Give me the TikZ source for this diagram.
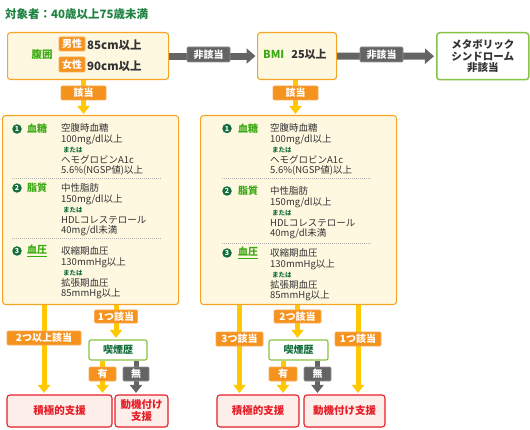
\documentclass[tikz,border=0pt]{standalone}
\usepackage{fontspec}
\setmainfont{Noto Sans CJK JP}
\usetikzlibrary{arrows.meta,backgrounds,calc}
\definecolor{titleG}{RGB}{30,130,65}
\definecolor{brightG}{RGB}{60,170,20}
\definecolor{darkG}{RGB}{20,110,60}
\definecolor{cream}{RGB}{255,248,225}
\definecolor{orangeB}{RGB}{245,165,35}
\definecolor{orangeL}{RGB}{246,146,30}
\definecolor{yellowA}{RGB}{255,200,0}
\definecolor{grayA}{RGB}{100,100,100}
\definecolor{greenB}{RGB}{135,195,70}
\definecolor{redB}{RGB}{230,30,40}
\definecolor{pinkF}{RGB}{253,238,234}
\definecolor{txt}{RGB}{50,50,50}
\newcommand{\orlabel}{{\fontsize{6.5}{6.5}\selectfont\bfseries\color{darkG}\hspace{2pt}または}}
\begin{document}
\begin{tikzpicture}[x=1pt,y=-1pt,
  cond/.style={draw=orangeB, fill=cream, rounded corners=3pt, line width=1.1pt, inner sep=0pt, anchor=north west},
  tag/.style={fill=orangeL, draw=orangeL!75!white, line width=0.6pt, text=white, font=\bfseries\fontsize{10}{10}\selectfont, inner sep=0pt, rounded corners=1pt},
  gtag/.style={tag, fill=grayA, draw=grayA!70!white},
  smokebox/.style={draw=greenB, fill=white, line width=1.2pt, rounded corners=2pt, minimum width=58pt, minimum height=20pt, inner sep=0pt, text=darkG, font=\bfseries\fontsize{10}{10}\selectfont},
  resbox/.style={draw=redB, fill=pinkF, line width=1.1pt, rounded corners=3pt, minimum height=32pt, inner sep=0pt, text=redB, font=\bfseries\fontsize{10.5}{12}\selectfont, align=center},
  yarrow/.style={draw=yellowA, line width=5pt, -{Triangle[width=12pt,length=8pt]}},
  garrowv/.style={draw=grayA, line width=5pt, -{Triangle[width=12pt,length=8pt]}},
  garrowh/.style={draw=grayA, line width=7pt, -{Triangle[width=15pt,length=9pt]}},
  numc/.style={circle, fill=darkG, text=white, inner sep=0pt, minimum size=9.5pt, font=\bfseries\fontsize{7}{7}\selectfont},
  cat/.style={anchor=west, text=brightG, font=\bfseries\fontsize{10}{10}\selectfont, inner sep=0pt},
  body/.style={anchor=north west, align=left, text=txt, font=\fontsize{9.5}{10.5}\selectfont, inner sep=0pt},
  sep/.style={draw=black!30, line width=0.6pt, dash pattern=on 1pt off 1pt}
]
\useasboundingbox (0,0) rectangle (530,430);

% title
\node[anchor=west, inner sep=0pt, text=titleG, font=\bfseries\fontsize{11.5}{12}\selectfont] (title) at (5,14) {対象者：40歳以上75歳未満};

% top row
\node[cond, minimum width=161pt, minimum height=47pt] (fukui) at (7,32) {};
\node[anchor=center, inner sep=0pt, text=brightG, font=\bfseries\fontsize{10.5}{11}\selectfont] (fukuiT) at (42,54.5) {腹囲};
\node[tag, minimum width=26pt, minimum height=14pt] (male) at (72,44) {男性};
\node[tag, minimum width=26pt, minimum height=15pt] (female) at (72,64.5) {女性};
\node[anchor=west, inner sep=0pt, text=txt, font=\bfseries\fontsize{11.5}{12}\selectfont] (maleV) at (87,45) {85cm以上};
\node[anchor=west, inner sep=0pt, text=txt, font=\bfseries\fontsize{11.5}{12}\selectfont] (femaleV) at (87,66) {90cm以上};

\node[cond, minimum width=79pt, minimum height=47pt] (bmi) at (257,32) {};
\node[anchor=west, inner sep=0pt, text=txt, font=\bfseries\fontsize{11}{12}\selectfont] (bmiT) at (263,54.5) {\textcolor{brightG}{BMI}\hspace{7pt}25以上};

\node[draw=greenB, fill=white, line width=1.5pt, rounded corners=3pt, minimum width=92pt, minimum height=47pt, inner sep=0pt, anchor=north west, align=center, text=txt, font=\bfseries\fontsize{10.5}{11.5}\selectfont] (metabo) at (436,32) {メタボリック\\シンドローム\\非該当};

% big boxes
\node[cond, minimum width=176pt, minimum height=189pt] (bigL) at (2,115) {};
\node[cond, minimum width=196pt, minimum height=189pt] (bigR) at (200,115) {};

% labels top
\node[gtag, minimum width=43pt, minimum height=15pt] (ng1) at (208.5,54.5) {非該当};
\node[gtag, minimum width=43pt, minimum height=15pt] (ng2) at (381.5,54.5) {非該当};
\node[tag, minimum width=45pt, minimum height=14pt] (gai1) at (83.5,93) {該当};
\node[tag, minimum width=45pt, minimum height=14pt] (gai2) at (295.5,93) {該当};

% left box contents
\node[numc] (nL1) at (17,129) {1};
\node[cat] (cL1) at (27,129) {血糖};
\node[body] (bL1) at (61,123.5) {空腹時血糖\\100mg/dl以上\\\orlabel\\ヘモグロビンA1c\\5.6\%(NGSP値)以上};
\node[numc] (nL2) at (17,188) {2};
\node[cat] (cL2) at (27,188) {脂質};
\node[body] (bL2) at (61,183.5) {中性脂肪\\150mg/dl以上\\\orlabel\\HDLコレステロール\\40mg/dl未満};
\node[numc] (nL3) at (17,251) {3};
\node[cat] (cL3) at (27,251) {\underline{血圧}};
\node[body] (bL3) at (61,246.5) {収縮期血圧\\130mmHg以上\\\orlabel\\拡張期血圧\\85mmHg以上};
\coordinate (sL1a) at (12,178); \coordinate (sL1b) at (162,178);
\coordinate (sL2a) at (12,238); \coordinate (sL2b) at (162,238);
\draw[sep] (sL1a) -- (sL1b);
\draw[sep] (sL2a) -- (sL2b);

% right box contents
\node[numc] (nR1) at (227,128.5) {1};
\node[cat] (cR1) at (238,128.5) {血糖};
\node[body] (bR1) at (270,123.5) {空腹時血糖\\100mg/dl以上\\\orlabel\\ヘモグロビンA1c\\5.6\%(NGSP値)以上};
\node[numc] (nR2) at (227,191) {2};
\node[cat] (cR2) at (238,191) {脂質};
\node[body] (bR2) at (270,186.5) {中性脂肪\\150mg/dl以上\\\orlabel\\HDLコレステロール\\40mg/dl未満};
\node[numc] (nR3) at (227,253) {3};
\node[cat] (cR3) at (238,253) {\underline{血圧}};
\node[body] (bR3) at (270,248.5) {収縮期血圧\\130mmHg以上\\\orlabel\\拡張期血圧\\85mmHg以上};
\coordinate (sR1a) at (222,178); \coordinate (sR1b) at (372,178);
\coordinate (sR2a) at (222,243); \coordinate (sR2b) at (372,243);
\draw[sep] (sR1a) -- (sR1b);
\draw[sep] (sR2a) -- (sR2b);

% bottom left
\node[tag, minimum width=74pt, minimum height=14pt] (lab2L) at (44,338) {2つ以上該当};
\node[tag, minimum width=43pt, minimum height=13pt] (lab1L) at (116,316.5) {1つ該当};
\node[smokebox] (smokeL) at (118,350) {喫煙歴};
\node[tag, minimum width=27pt, minimum height=14pt] (yesL) at (102.5,374) {有};
\node[gtag, minimum width=26pt, minimum height=14pt] (noL) at (136,374) {無};
\node[resbox, minimum width=105pt] (resAL) at (59.5,411) {積極的支援};
\node[resbox, minimum width=53pt] (resBL) at (141.5,411) {動機付け\\支援};

% bottom right
\node[tag, minimum width=47pt, minimum height=14pt] (lab3R) at (239.5,339) {3つ該当};
\node[tag, minimum width=47pt, minimum height=13pt] (lab2R) at (297.5,316.5) {2つ該当};
\node[smokebox, minimum width=59pt] (smokeR) at (298.5,350) {喫煙歴};
\node[tag, minimum width=28pt, minimum height=14pt] (yesR) at (283,374) {有};
\node[gtag, minimum width=27pt, minimum height=14pt] (noR) at (317.5,374) {無};
\node[tag, minimum width=46pt, minimum height=14pt] (lab1R) at (358,339) {1つ該当};
\node[resbox, minimum width=82pt] (resAR) at (258,411) {積極的支援};
\node[resbox, minimum width=81pt] (resBR) at (344.5,411) {動機付け支援};

% arrows behind
\begin{scope}[on background layer]
\draw[garrowh, shorten >=1.5pt] (fukui.east) -- (bmi.west);
\draw[garrowh, shorten >=2pt] (bmi.east) -- (metabo.west);
\draw[yarrow, shorten >=1pt] (fukui.south -| gai1) -- (bigL.north -| gai1);
\draw[yarrow, shorten >=1pt] (bmi.south -| gai2) -- (bigR.north -| gai2);
\draw[yarrow, shorten >=1.5pt] (bigL.south -| lab2L) -- (resAL.north -| lab2L);
\draw[yarrow, shorten >=1.5pt] (bigL.south -| lab1L) -- (smokeL.north -| lab1L);
\draw[yarrow, shorten >=1.5pt] (smokeL.south -| yesL) -- (resAL.north -| yesL);
\draw[garrowv, shorten >=1.5pt] (smokeL.south -| noL) -- (resBL.north -| noL);
\draw[yarrow, shorten >=1.5pt] (bigR.south -| lab3R) -- (resAR.north -| lab3R);
\draw[yarrow, shorten >=1.5pt] (bigR.south -| lab2R) -- (smokeR.north -| lab2R);
\draw[yarrow, shorten >=1.5pt] (smokeR.south -| yesR) -- (resAR.north -| yesR);
\draw[garrowv, shorten >=1.5pt] (smokeR.south -| noR) -- (resBR.north -| noR);
\draw[yarrow, shorten >=1.5pt] (bigR.south -| lab1R) -- (resBR.north -| lab1R);
\end{scope}
\end{tikzpicture}
\end{document}
